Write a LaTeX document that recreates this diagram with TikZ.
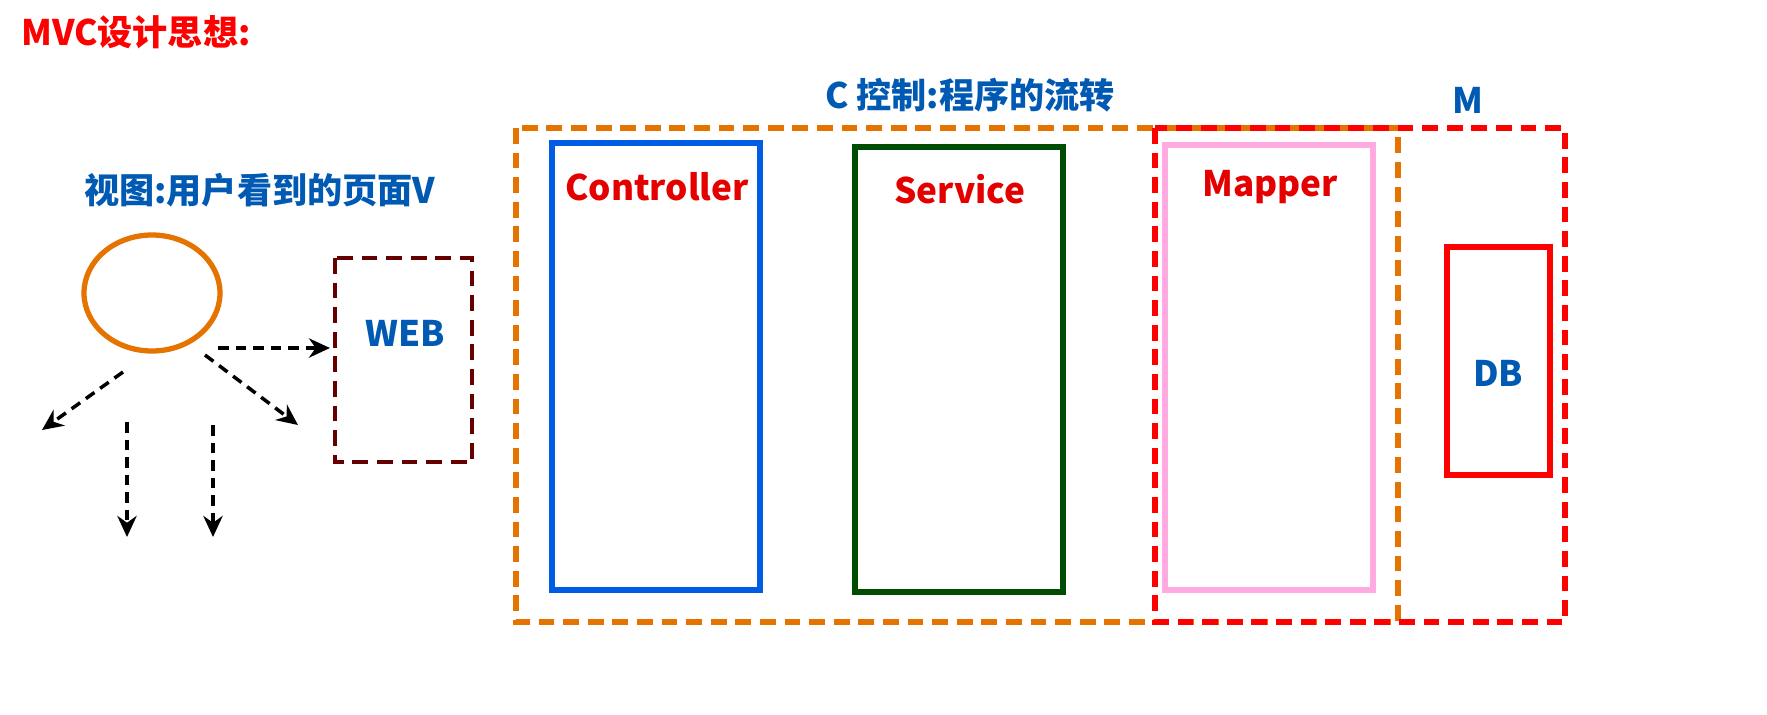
\documentclass[tikz,border=0pt]{standalone}
\usepackage{fontspec}
\usetikzlibrary{arrows.meta}
\setmainfont{Noto Sans CJK SC}[BoldFont={Noto Sans CJK SC Black}]
\begin{document}
\begin{tikzpicture}[x=0.02cm,y=-0.02cm,
  lbl/.style={font=\bfseries\fontsize{20}{24}\selectfont},
  red lbl/.style={lbl,text=red!90!black},
  blue lbl/.style={lbl,text=blue!50!cyan!70!black},
  dsh/.style={dash pattern=on 9pt off 5pt},
  darr/.style={dash pattern=on 6pt off 4pt,line width=2pt,-{Stealth[length=12pt,width=11pt]}}]
\useasboundingbox (0,0) rectangle (1767,714);
\node[lbl,text=red,anchor=west] (t) at (15,32) {MVC设计思想:};
\node[blue lbl] (c) at (970,95) {C 控制:程序的流转};
\node[blue lbl] (m) at (1468,100) {M};
\node[blue lbl,anchor=west] (v) at (78,190) {视图:用户看到的页面V};
\draw[orange!90!black,line width=3pt,dsh] (516,128) rectangle (1398,622);
\draw[red,line width=3pt,dsh] (1155,128) rectangle (1565,622);
\draw[blue!60!cyan!90!black,line width=3pt] (552,143) rectangle (760,590);
\draw[green!30!black,line width=3pt] (855,147) rectangle (1063,592);
\draw[pink!70!magenta!70,line width=3.5pt] (1165,145) rectangle (1373,590);
\draw[red,line width=3pt] (1447,247) rectangle (1550,475);
\node[red lbl] (cl) at (657,187) {Controller};
\node[red lbl] (sl) at (960,189) {Service};
\node[red lbl] (ml) at (1270,187) {Mapper};
\node[blue lbl] (db) at (1498,373) {DB};
\draw[red!40!black,line width=2.5pt,dsh] (335,258) rectangle (472,462);
\node[blue lbl] (web) at (405,333) {WEB};
\coordinate (u) at (152,293);
\draw[orange!90!black,line width=3pt] (u) ellipse [x radius=68, y radius=58];
\coordinate (a1s) at (218,348); \coordinate (a1e) at (330,348);
\coordinate (a2s) at (123,372); \coordinate (a2e) at (42,430);
\coordinate (a3s) at (205,355); \coordinate (a3e) at (298,425);
\coordinate (a4s) at (127,422); \coordinate (a4e) at (127,537);
\coordinate (a5s) at (213,425); \coordinate (a5e) at (213,537);
\foreach \i in {1,...,5} \draw[darr] (a\i s) -- (a\i e);
\end{tikzpicture}
\end{document}
